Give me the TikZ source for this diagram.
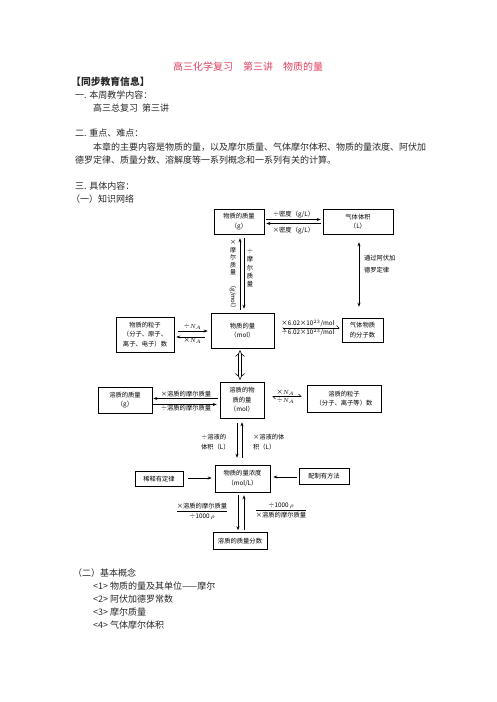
\documentclass[tikz,border=0pt]{standalone}
\usepackage{amsmath}
\usepackage{fontspec}
\setmainfont{Noto Sans CJK SC}
\usepackage{tikz}
\usetikzlibrary{arrows.meta, positioning}
\definecolor{titlered}{RGB}{226,64,96}

\begin{document}
\begin{tikzpicture}[x=1pt, y=-1pt,
    box/.style={draw, line width=0.6pt, rectangle, align=center, inner sep=0pt, font=\fontsize{6.3}{9.5}\selectfont},
    lbl/.style={inner sep=0.8pt, align=left, font=\fontsize{6.3}{8}\selectfont},
    txt/.style={anchor=west, inner sep=0pt, text=black!85, font=\fontsize{9}{12}\selectfont},
    arrow/.style={-{Stealth[length=4pt, width=3pt]}, line width=0.55pt},
    twoway/.style={{Stealth[length=4pt, width=3pt]}-{Stealth[length=4pt, width=3pt]}, line width=0.55pt},
    harp/.style={{Straight Barb[harpoon, length=2.5pt, width=5pt]}-{Straight Barb[harpoon, length=2.5pt, width=5pt]}, line width=0.55pt}]

\useasboundingbox (0,0) rectangle (496,702);

% 标题与正文
\node[anchor=center, inner sep=0pt, text=titlered, font=\fontsize{10}{12}\selectfont] (title) at (248,67) {高三化学复习\quad 第三讲\quad 物质的量};
\node[txt, font=\fontsize{9.8}{12}\selectfont\bfseries] (head) at (71,82) {【同步教育信息】};
\node[txt] (s1) at (75,95) {一. 本周教学内容：};
\node[txt] (s1a) at (93,108) {高三总复习\ \ 第三讲};
\node[txt] (s2) at (75,133) {二. 重点、难点：};
\node[txt] (s2a) at (93,147) {本章的主要内容是物质的量，以及摩尔质量、气体摩尔体积、物质的量浓度、阿伏加};
\node[txt] (s2b) at (75,160) {德罗定律、质量分数、溶解度等一系列概念和一系列有关的计算。};
\node[txt] (s3) at (75,186) {三. 具体内容：};
\node[txt] (s3a) at (71,199) {（一）知识网络};

\node[txt] (b0) at (73,573) {（二）基本概念};
\node[txt] (b1) at (93,586) {<1> 物质的量及其单位——摩尔};
\node[txt] (b2) at (93,599) {<2> 阿伏加德罗常数};
\node[txt] (b3) at (93,612) {<3> 摩尔质量};
\node[txt] (b4) at (93,625) {<4> 气体摩尔体积};

% 定义节点
\node[box, minimum width=50, minimum height=25] (mass) at (239,221.5) {物质的质量\\（g）};
\node[box, minimum width=70, minimum height=25] (gasvol) at (358,221.5) {气体体积\\（L）};
\node[box, minimum width=58, minimum height=35] (part) at (145,334.5) {物质的粒子\\（分子、原子、\\离子、电子）数};
\node[box, minimum width=63, minimum height=35] (mol) at (242.5,330.5) {物质的量\\（mol）};
\node[box, minimum width=41, minimum height=24] (gasnum) at (362.5,330) {气体物质\\的分子数};
\node[box, minimum width=54, minimum height=26] (smass) at (125,400) {溶质的质量\\（g）};
\node[box, minimum width=44, minimum height=36] (smol) at (242,400) {溶质的物\\质的量\\（mol）};
\node[box, minimum width=74, minimum height=27] (spart) at (344,398.5) {溶质的粒子\\（分子、离子等）数};
\node[box, minimum width=55, minimum height=27] (conc) at (242.5,478.5) {物质的量浓度\\（mol/L）};
\node[box, minimum width=48, minimum height=15] (dilu) at (159,479) {稀释有定律};
\node[box, minimum width=50, minimum height=16] (prep) at (324,476) {配制有方法};
\node[box, minimum width=54, minimum height=17] (frac) at (240,541) {溶质的质量分数};

% 辅助坐标
\coordinate (xa) at (240,0);
\coordinate (xb) at (244,0);
\coordinate (xg) at (359,0);
\coordinate (xc) at (237,0);
\coordinate (xd) at (242,0);
\coordinate (xe) at (238,0);
\coordinate (ya) at (0,219.5);
\coordinate (yb) at (0,223.5);
\coordinate (yc) at (0,331);
\coordinate (yd) at (0,337);
\coordinate (ye) at (0,328);
\coordinate (yf) at (0,398.5);
\coordinate (yg) at (0,404.5);
\coordinate (yh) at (0,396.5);
\coordinate (yi) at (0,478);
\coordinate (yj) at (0,477);

% 连线
\draw[arrow, shorten <=2, shorten >=2] (mass.east |- ya) -- node[lbl, above] (l1) {÷密度（g/L）} (gasvol.west |- ya);
\draw[arrow, shorten <=2, shorten >=2] (gasvol.west |- yb) -- node[lbl, below=2.5pt] (l2) {×密度（g/L）} (mass.east |- yb);

\draw[arrow, shorten <=3, shorten >=4] (mol.north -| xa) -- (mass.south -| xa);
\draw[arrow, shorten <=4, shorten >=4] (mass.south -| xb) -- (mol.north -| xb);
\node[lbl, align=center, font=\fontsize{6}{7.5}\selectfont] (l3) at (233,276) {×\\摩\\尔\\质\\量\\\rotatebox{-90}{（g/mol）}};
\node[lbl, align=center, font=\fontsize{6.3}{8.2}\selectfont] (l4) at (250,268) {÷\\摩\\尔\\质\\量};

\draw[twoway, shorten <=8, shorten >=11] (gasvol.south -| xg) -- (gasnum.north -| xg);
\node[lbl, anchor=west, font=\fontsize{6.3}{12}\selectfont] (l5) at (363,264) {通过阿伏加\\德罗定律};

\draw[arrow, shorten <=4, shorten >=3] (part.east |- yc) -- node[lbl, above] (l6) {÷$N_A$} (mol.west |- yc);
\draw[arrow, shorten <=6, shorten >=2] (mol.west |- yd) -- node[lbl, below] (l7) {×$N_A$} (part.east |- yd);

\draw[harp, shorten <=8, shorten >=2] (mol.east |- ye) -- node[lbl, above] (l8) {×6.02×10$^{23}$/mol} node[lbl, below] (l9) {÷6.02×10$^{23}$/mol} (gasnum.west |- ye);

\draw[double, double distance=2.8pt, line width=0.6pt, {Implies}-{Implies}, shorten <=2, shorten >=2] (mol.south -| xa) -- (smol.north -| xa);

\draw[arrow, shorten <=2, shorten >=1] (smol.west |- yf) -- node[lbl, above] (l10) {×溶质的摩尔质量} (smass.east |- yf);
\draw[arrow, shorten <=1, shorten >=3] (smass.east |- yg) -- node[lbl, below] (l11) {÷溶质的摩尔质量} (smol.west |- yg);

\draw[harp, shorten <=8, shorten >=5] (smol.east |- yh) -- node[lbl, above] (l12) {×$N_A$} node[lbl, below] (l13) {÷$N_A$} (spart.west |- yh);

\draw[arrow, shorten <=5, shorten >=7] (smol.south -| xc) -- (conc.north -| xc);
\draw[arrow, shorten <=7, shorten >=4] (conc.north -| xd) -- (smol.south -| xd);
\node[lbl, anchor=west, font=\fontsize{6.3}{10.5}\selectfont] (l14) at (200,442) {÷溶液的\\体积（L）};
\node[lbl, anchor=west, font=\fontsize{6.3}{10.5}\selectfont] (l15) at (252,442) {×溶液的体\\积（L）};

\draw[arrow, shorten <=5, shorten >=3] (dilu.east |- yi) -- (conc.west |- yi);
\draw[arrow, shorten <=2, shorten >=3] (prep.west |- yj) -- (conc.east |- yj);

\draw[arrow, shorten <=3, shorten >=2] (conc.south -| xe) -- (frac.north -| xe);
\draw[arrow, shorten <=2, shorten >=3] (frac.north -| xb) -- (conc.south -| xb);
\node[lbl, font=\fontsize{6.3}{8}\selectfont] (l16) at (202,511) {$\dfrac{\text{×溶质的摩尔质量}}{\text{÷1000\,}\rho}$};
\node[lbl, font=\fontsize{6.3}{8}\selectfont] (l17) at (281,510) {$\dfrac{\text{÷1000\,}\rho}{\text{×溶质的摩尔质量}}$};

\end{tikzpicture}
\end{document}
